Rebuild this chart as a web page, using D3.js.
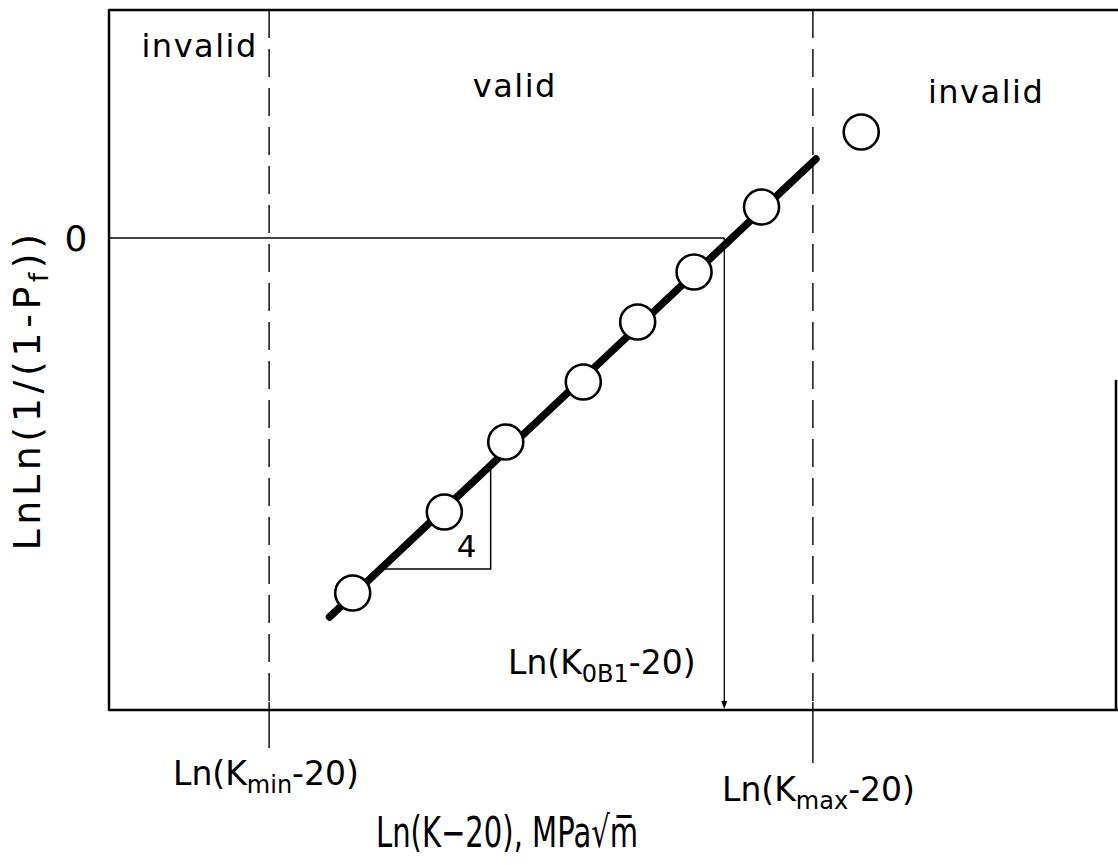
<!DOCTYPE html>
<html><head><meta charset="utf-8">
<script src="https://cdn.jsdelivr.net/npm/d3@7"></script>
<style>body{margin:0;background:#fff} text{font-family:"DejaVu Sans",sans-serif;fill:#000}</style>
</head><body><svg id="c" width="1118" height="865"></svg>
<script>
// ---- data (schematic units) ----
const pointsX = [2.42, 3.33, 3.94, 4.71, 5.25, 5.81, 6.48];
const pointsY = [-3.55, -2.74, -2.04, -1.44, -0.84, -0.34, 0.31];
const outlierX = [7.47];
const outlierY = [1.06];
const fitX = [2.19, 7.02];
const fitY = [-3.79, 0.79];
const limitSubs = ["min", "max"];
const limitX = [1.59, 6.99];
const k0X = 6.11;
const k0Sub = "0B1";
const regionLabels = ["invalid", "valid", "invalid"];
const regionX = [0.90, 4.03, 8.71];
const regionY = [1.92, 1.52, 1.46];
const slopeX = 3.79, slopeY = -3.31, slopeLabel = "4";
const zeroLabel = "0";

const svg = d3.select("#c");
const x = d3.scaleLinear().domain([0, 10]).range([109, 1116]);
const y = d3.scaleLinear().domain([-4.72, 2.28]).range([710, 10]);

// frame
const g = svg.append("g").attr("stroke", "#000").attr("fill", "none");
g.append("line").attr("x1", x(0)).attr("x2", 1118).attr("y1", y(2.28)).attr("y2", y(2.28)).attr("stroke-width", 2.5);
g.append("line").attr("x1", x(0)).attr("x2", x(0)).attr("y1", y(2.28) - 1).attr("y2", y(-4.72) + 1).attr("stroke-width", 2.5);
g.append("line").attr("x1", x(0)).attr("x2", 1118).attr("y1", y(-4.72)).attr("y2", y(-4.72)).attr("stroke-width", 2.5);
g.append("line").attr("x1", x(10)).attr("x2", x(10)).attr("y1", y(-1.42)).attr("y2", y(-4.72)).attr("stroke-width", 2.5);

// limits: dashed inside, solid tick below
const tickLen = [38, 53];
limitX.forEach((v, i) => {
  g.append("line").attr("x1", x(v)).attr("x2", x(v)).attr("y1", y(2.28)).attr("y2", y(-4.72))
    .attr("stroke-width", 1.4).attr("stroke-dasharray", "28,11");
  g.append("line").attr("x1", x(v)).attr("x2", x(v)).attr("y1", y(-4.72) - 8).attr("y2", y(-4.72) + tickLen[i])
    .attr("stroke-width", 1.4);
});

// zero line and K0 drop
g.append("line").attr("x1", x(0)).attr("x2", x(k0X)).attr("y1", y(0)).attr("y2", y(0)).attr("stroke-width", 1.3);
g.append("line").attr("x1", x(k0X)).attr("x2", x(k0X)).attr("y1", y(0)).attr("y2", y(-4.72) - 7).attr("stroke-width", 1.3);
svg.append("path").attr("fill", "#000")
  .attr("d", `M${x(k0X) - 3},${y(-4.72) - 9} L${x(k0X) + 3},${y(-4.72) - 9} L${x(k0X)},${y(-4.72) - 1} Z`);

// slope triangle
const slope = (fitY[1] - fitY[0]) / (fitX[1] - fitX[0]);
const fitAt = xv => fitY[0] + slope * (xv - fitX[0]);
const xAt = yv => fitX[0] + (yv - fitY[0]) / slope;
g.append("path").attr("stroke-width", 1.5)
  .attr("d", `M${x(xAt(slopeY))},${y(slopeY)} L${x(slopeX)},${y(slopeY)} L${x(slopeX)},${y(fitAt(slopeX))}`);

// fit line
svg.append("line").attr("x1", x(fitX[0])).attr("y1", y(fitY[0])).attr("x2", x(fitX[1])).attr("y2", y(fitY[1]))
  .attr("stroke", "#000").attr("stroke-width", 7.5).attr("stroke-linecap", "round");

// points
const allX = pointsX.concat(outlierX), allY = pointsY.concat(outlierY);
svg.selectAll("circle.p").data(allX).join("circle").attr("class", "p")
  .attr("cx", d => x(d)).attr("cy", (d, i) => y(allY[i])).attr("r", 17.5)
  .attr("fill", "#fff").attr("stroke", "#000").attr("stroke-width", 2.6);

// texts
regionLabels.forEach((t, i) => {
  svg.append("text").attr("x", x(regionX[i])).attr("y", y(regionY[i])).attr("text-anchor", "middle")
    .attr("dominant-baseline", "central").attr("font-size", 32).attr("letter-spacing", 1.5).text(t);
});
svg.append("text").attr("x", 76).attr("y", y(0)).attr("text-anchor", "middle").attr("dominant-baseline", "central")
  .attr("font-size", 36).text(zeroLabel);
svg.append("text").attr("x", x(slopeX) - 24).attr("y", y(slopeY) - 12).attr("text-anchor", "middle")
  .attr("font-size", 31).text(slopeLabel);

function lnLabel(px, py, sub) {
  const t = svg.append("text").attr("x", px).attr("y", py).attr("font-size", 33);
  t.append("tspan").text("Ln(K");
  t.append("tspan").attr("font-size", 24).attr("dy", 8).text(sub);
  t.append("tspan").attr("dy", -8).text("-20)");
  return t;
}
lnLabel(173, 785, limitSubs[0]);
lnLabel(722, 801, limitSubs[1]);
lnLabel(508, 674, k0Sub);

// axis titles
svg.append("text").attr("x", 376).attr("y", 847).attr("font-size", 43)
  .attr("textLength", 262).attr("lengthAdjust", "spacingAndGlyphs").text("Ln(K\u221220), MPa\u221Am\u0305");

const yt = svg.append("text").attr("transform", "translate(40,390) rotate(-90)").attr("text-anchor", "middle")
  .attr("font-size", 38).attr("letter-spacing", 4.6);
yt.append("tspan").text("LnLn(1/(1-P");
yt.append("tspan").attr("font-size", 26).attr("dy", 8).text("f");
yt.append("tspan").attr("dy", -8).text("))");
</script></body></html>
